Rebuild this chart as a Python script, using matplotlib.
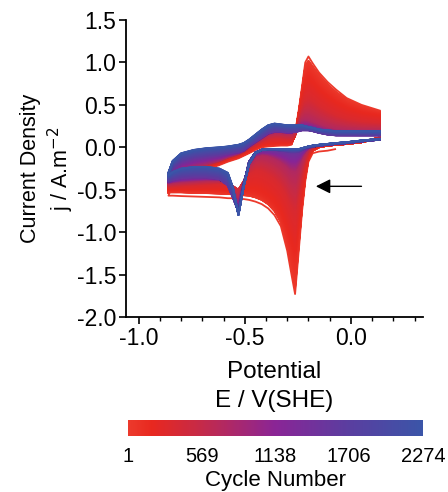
import matplotlib
matplotlib.use("Agg")
import matplotlib.pyplot as plt
import numpy as np
from matplotlib.colors import LinearSegmentedColormap, Normalize
from matplotlib.collections import LineCollection
from matplotlib.ticker import MultipleLocator

plt.rcParams['font.family'] = ['Liberation Sans', 'DejaVu Sans']

# potential grid (V vs SHE), same points for both sweep directions
potential = [-0.86, -0.84, -0.80, -0.74, -0.68, -0.62, -0.58, -0.555, -0.53, -0.505,
             -0.48, -0.45, -0.42, -0.39, -0.36, -0.33, -0.30, -0.28, -0.263, -0.245,
             -0.23, -0.215, -0.20, -0.18, -0.15, -0.11, -0.07, -0.02, 0.05, 0.14]

# cycles
cycles = [1, 20, 150, 350, 750, 1500, 2274]

# anodic sweep (E increasing), A/m2
fwd_1 = [-0.57, -0.45, -0.36, -0.30, -0.26, -0.21, -0.17, -0.15, -0.13, -0.10,
         -0.07, -0.03, 0.00, 0.01, 0.015, 0.02, 0.02, 0.03, 0.17, 0.45,
         0.72, 1.00, 1.07, 0.99, 0.88, 0.77, 0.68, 0.58, 0.50, 0.43]
fwd_20 = [-0.54, -0.43, -0.35, -0.29, -0.25, -0.20, -0.16, -0.14, -0.12, -0.09,
          -0.06, -0.02, 0.01, 0.02, 0.025, 0.03, 0.03, 0.04, 0.15, 0.42,
          0.68, 0.95, 1.02, 0.95, 0.85, 0.74, 0.65, 0.56, 0.48, 0.42]
fwd_150 = [-0.50, -0.41, -0.33, -0.27, -0.23, -0.18, -0.14, -0.12, -0.10, -0.07,
           -0.04, 0.00, 0.03, 0.04, 0.045, 0.05, 0.05, 0.06, 0.14, 0.38,
           0.60, 0.80, 0.85, 0.80, 0.71, 0.62, 0.55, 0.48, 0.42, 0.38]
fwd_350 = [-0.45, -0.37, -0.30, -0.25, -0.21, -0.16, -0.12, -0.10, -0.08, -0.05,
           -0.01, 0.03, 0.07, 0.10, 0.11, 0.11, 0.10, 0.10, 0.15, 0.30,
           0.45, 0.54, 0.56, 0.53, 0.47, 0.41, 0.36, 0.32, 0.29, 0.27]
fwd_750 = [-0.40, -0.33, -0.26, -0.22, -0.19, -0.15, -0.11, -0.09, -0.07, -0.04,
           0.01, 0.06, 0.11, 0.16, 0.18, 0.18, 0.17, 0.17, 0.20, 0.26,
           0.30, 0.31, 0.30, 0.28, 0.25, 0.22, 0.20, 0.19, 0.18, 0.18]
fwd_1500 = [-0.34, -0.25, -0.17, -0.13, -0.11, -0.09, -0.07, -0.06, -0.05, -0.03,
            0.02, 0.07, 0.12, 0.17, 0.19, 0.19, 0.18, 0.18, 0.18, 0.19,
            0.20, 0.20, 0.20, 0.19, 0.17, 0.15, 0.14, 0.14, 0.14, 0.14]
fwd_2274 = [-0.30, -0.16, -0.07, -0.03, -0.01, 0.00, 0.01, 0.02, 0.03, 0.05,
            0.09, 0.15, 0.21, 0.26, 0.28, 0.27, 0.26, 0.26, 0.26, 0.26,
            0.26, 0.25, 0.24, 0.23, 0.21, 0.20, 0.19, 0.19, 0.19, 0.19]

# cathodic sweep, listed on the same potential grid (first cycle starts at -0.065 V)
rev_1 = [-0.57, -0.57, -0.575, -0.58, -0.585, -0.59, -0.60, -0.60, -0.61, -0.61,
         -0.62, -0.64, -0.67, -0.72, -0.80, -0.93, -1.22, -1.50, -1.73, -1.20,
         -0.75, -0.40, -0.17, -0.07, -0.05, -0.04, -0.02, np.nan, np.nan, np.nan]
rev_20 = [-0.53, -0.53, -0.53, -0.535, -0.54, -0.545, -0.55, -0.555, -0.56, -0.565,
          -0.57, -0.59, -0.62, -0.67, -0.75, -0.88, -1.16, -1.43, -1.66, -1.13,
          -0.70, -0.36, -0.14, -0.04, 0.00, 0.02, 0.03, 0.04, 0.06, 0.12]
rev_150 = [-0.50, -0.50, -0.50, -0.50, -0.50, -0.50, -0.51, -0.52, -0.53, -0.52,
           -0.51, -0.52, -0.55, -0.60, -0.67, -0.78, -0.98, -1.16, -1.30, -0.90,
           -0.56, -0.29, -0.11, -0.02, 0.01, 0.02, 0.03, 0.04, 0.06, 0.11]
rev_350 = [-0.46, -0.46, -0.45, -0.44, -0.43, -0.42, -0.43, -0.46, -0.50, -0.40,
           -0.30, -0.26, -0.27, -0.31, -0.36, -0.44, -0.56, -0.68, -0.75, -0.52,
           -0.31, -0.15, -0.05, 0.00, 0.02, 0.03, 0.04, 0.05, 0.07, 0.11]
rev_750 = [-0.42, -0.41, -0.40, -0.39, -0.38, -0.38, -0.42, -0.52, -0.66, -0.42,
           -0.20, -0.10, -0.08, -0.09, -0.12, -0.16, -0.22, -0.27, -0.28, -0.20,
           -0.11, -0.05, -0.01, 0.01, 0.02, 0.03, 0.04, 0.05, 0.07, 0.10]
rev_1500 = [-0.40, -0.38, -0.36, -0.35, -0.35, -0.37, -0.45, -0.60, -0.76, -0.44,
            -0.17, -0.06, -0.03, -0.03, -0.03, -0.04, -0.05, -0.06, -0.06, -0.05,
            -0.03, -0.01, 0.00, 0.01, 0.02, 0.03, 0.04, 0.05, 0.07, 0.09]
rev_2274 = [-0.33, -0.29, -0.25, -0.23, -0.23, -0.25, -0.30, -0.48, -0.80, -0.46,
            -0.20, -0.07, -0.03, -0.02, -0.02, -0.02, -0.02, -0.02, -0.02, -0.02,
            -0.01, 0.00, 0.01, 0.02, 0.03, 0.04, 0.05, 0.06, 0.08, 0.10]

cbar_ticks = [1, 569, 1138, 1706, 2274]

fwd = np.array([fwd_1, fwd_20, fwd_150, fwd_350, fwd_750, fwd_1500, fwd_2274])
rev = np.array([rev_1, rev_20, rev_150, rev_350, rev_750, rev_1500, rev_2274])
E = np.array(potential)

cmap = LinearSegmentedColormap.from_list(
    "cv", [(0.0, "#ec3a2c"), (0.08, "#e8281f"), (0.25, "#c42a4a"),
           (0.5, "#8a2596"), (0.75, "#5a3ea0"), (1.0, "#3b55a8")])
norm = Normalize(1, 2274)

fig = plt.figure(figsize=(4.48, 4.92), dpi=100)
ax = fig.add_axes([126 / 448, 1 - 317 / 492, 297 / 448, 297 / 492])

# cycle 1 drawn alone, then the band of later cycles between the stored ones
segs, cols = [], []
x_loop = np.concatenate([E[::-1], E])
segs.append(np.column_stack([x_loop, np.concatenate([rev[0][::-1], fwd[0]])]))
cols.append(cmap(norm(1)))
for k in range(1, len(cycles) - 1):
    c0, c1 = cycles[k], cycles[k + 1]
    for c in np.linspace(c0, c1, 70, endpoint=(k == len(cycles) - 2)):
        t = (c - c0) / (c1 - c0)
        f = (1 - t) * fwd[k] + t * fwd[k + 1]
        r = (1 - t) * rev[k] + t * rev[k + 1]
        segs.append(np.column_stack([x_loop, np.concatenate([r[::-1], f])]))
        cols.append(cmap(norm(c)))
ax.add_collection(LineCollection(segs, colors=cols, linewidths=1.3))

ax.annotate("", xy=(-0.165, -0.46), xytext=(0.05, -0.46),
            arrowprops=dict(arrowstyle="-|>", color="black", lw=1.0,
                            mutation_scale=22, shrinkA=0, shrinkB=0))

ax.set_xlim(-1.06, 0.34)
ax.set_ylim(-2.0, 1.5)
ax.set_xticks([-1.0, -0.5, 0.0])
ax.set_xticklabels(["-1.0", "-0.5", "0.0"])
ax.xaxis.set_minor_locator(MultipleLocator(0.1))
ax.set_yticks([1.5, 1.0, 0.5, 0.0, -0.5, -1.0, -1.5, -2.0])
ax.set_yticklabels(["1.5", "1.0", "0.5", "0.0", "-0.5", "-1.0", "-1.5", "-2.0"])
ax.spines["top"].set_visible(False)
ax.spines["right"].set_visible(False)
for s in ("left", "bottom"):
    ax.spines[s].set_linewidth(1.3)
ax.tick_params(axis="both", which="major", labelsize=16.5, length=5, width=1.2,
               direction="out", pad=2)
ax.tick_params(axis="x", which="minor", length=3, width=1.0)
ax.set_xlabel("Potential\nE / V(SHE)", fontsize=17.5, labelpad=8, linespacing=1.45)
ax.set_ylabel("Current Density\nj / A.m$^{-2}$", fontsize=15.5, linespacing=1.2)
ax.yaxis.set_label_coords(-0.17, 0.5)

cax = fig.add_axes([128 / 448, 1 - 436 / 492, 295 / 448, 16 / 492])
sm = plt.cm.ScalarMappable(cmap=cmap, norm=norm)
cb = fig.colorbar(sm, cax=cax, orientation="horizontal", ticks=cbar_ticks)
cb.outline.set_visible(False)
cb.ax.tick_params(length=0, labelsize=14.5, pad=8)
cb.ax.set_xlabel("Cycle Number", fontsize=16, labelpad=3)

fig.savefig("out.png", dpi=100)
